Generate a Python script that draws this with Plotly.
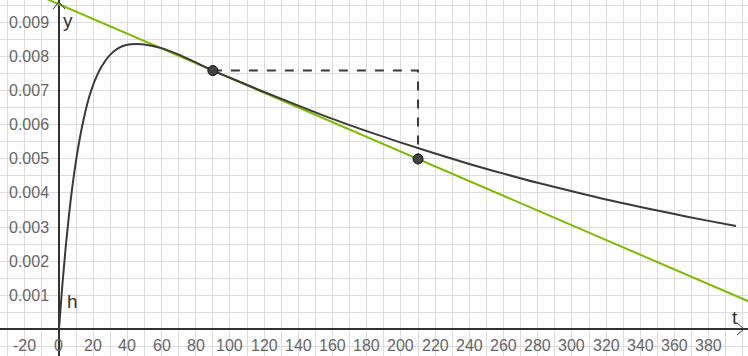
import plotly.graph_objects as go

# Curve h(t)
curve_t = [0, 2, 4, 6, 8, 10, 12, 15, 18, 21, 25, 30, 35, 40, 45, 50, 60, 70, 80, 90,
           100, 120, 140, 160, 180, 200, 220, 240, 260, 280, 300, 320, 340, 360, 380, 396]
curve_y = [0.0, 0.00131, 0.00245, 0.00342, 0.00425, 0.00496, 0.00556, 0.00630, 0.00688,
           0.00731, 0.00773, 0.00807, 0.00827, 0.00836, 0.00838, 0.00837, 0.00826, 0.00807,
           0.00784, 0.00760, 0.00739, 0.00697, 0.00657, 0.00618, 0.00582, 0.00548, 0.00516,
           0.004855, 0.00457, 0.00430, 0.00405, 0.00381, 0.00359, 0.00338, 0.00318, 0.00303]

# Tangent line (green)
tangent_t = [-40, 410]
tangent_y = [0.010417, 0.000667]

# Points and dashed guide
point_t = [90, 210]
point_y = [0.0076, 0.005]
guide_t = [90, 210, 210]
guide_y = [0.0076, 0.0076, 0.005]

# Tick labels
xtick_vals = list(range(-20, 381, 20))
xtick_text = [str(v) for v in xtick_vals]
ytick_vals = [0.001, 0.002, 0.003, 0.004, 0.005, 0.006, 0.007, 0.008, 0.009]
ytick_text = ["0.001", "0.002", "0.003", "0.004", "0.005", "0.006", "0.007", "0.008", "0.009"]

X_MIN, X_MAX = -34.5, 403.0
Y_MIN, Y_MAX = -0.000794, 0.009676

fig = go.Figure()

fig.add_trace(go.Scatter(x=tangent_t, y=tangent_y, mode="lines",
                         line=dict(color="#7dbb00", width=2), hoverinfo="skip"))
fig.add_trace(go.Scatter(x=curve_t, y=curve_y, mode="lines", line_shape="spline",
                         line=dict(color="#3a3a3a", width=2), hoverinfo="skip"))
fig.add_trace(go.Scatter(x=guide_t, y=guide_y, mode="lines",
                         line=dict(color="#3a3a3a", width=2, dash="dash"), hoverinfo="skip"))
fig.add_trace(go.Scatter(x=point_t, y=point_y, mode="markers",
                         marker=dict(color="#444444", size=10, line=dict(color="#111111", width=1)),
                         hoverinfo="skip"))

annotations = []
tick_font = dict(family="Liberation Sans, Arial, sans-serif", size=16, color="#666666")
for v, t in zip(xtick_vals, xtick_text):
    annotations.append(dict(x=v, y=0, xref="x", yref="y", text=t, showarrow=False,
                            yshift=-16, font=tick_font, xanchor="center", yanchor="middle"))
for v, t in zip(ytick_vals, ytick_text):
    annotations.append(dict(x=0, y=v, xref="x", yref="y", text=t, showarrow=False,
                            xshift=-8, font=tick_font, xanchor="right", yanchor="middle"))

label_font = dict(family="Liberation Sans, Arial, sans-serif", size=19, color="#333333")
annotations.append(dict(x=0, y=Y_MAX, xref="x", yref="y", text="y", showarrow=False,
                        xshift=9, yshift=-20, font=label_font))
annotations.append(dict(x=X_MAX, y=0, xref="x", yref="y", text="t", showarrow=False,
                        xshift=-13, yshift=12, font=label_font))
annotations.append(dict(x=0, y=0, xref="x", yref="y", text="h", showarrow=False,
                        xshift=14, yshift=28, font=label_font))

shapes = [
    # x axis arrow (open chevron)
    dict(type="line", xref="x", yref="y", xsizemode="pixel", ysizemode="pixel",
         xanchor=X_MAX, yanchor=0, x0=-11, y0=6, x1=-4, y1=0, line=dict(color="#333333", width=1)),
    dict(type="line", xref="x", yref="y", xsizemode="pixel", ysizemode="pixel",
         xanchor=X_MAX, yanchor=0, x0=-11, y0=-6, x1=-4, y1=0, line=dict(color="#333333", width=1)),
    # y axis arrow
    dict(type="line", xref="x", yref="y", xsizemode="pixel", ysizemode="pixel",
         xanchor=0, yanchor=Y_MAX, x0=-6, y0=-9, x1=0, y1=-2, line=dict(color="#333333", width=1)),
    dict(type="line", xref="x", yref="y", xsizemode="pixel", ysizemode="pixel",
         xanchor=0, yanchor=Y_MAX, x0=6, y0=-9, x1=0, y1=-2, line=dict(color="#333333", width=1)),
]

fig.update_layout(
    width=748, height=356,
    margin=dict(l=0, r=0, t=0, b=0),
    paper_bgcolor="white", plot_bgcolor="white",
    showlegend=False,
    annotations=annotations,
    shapes=shapes,
    xaxis=dict(range=[X_MIN, X_MAX], dtick=10, tick0=0, showgrid=True, gridcolor="#dcdcdc",
               gridwidth=1, showticklabels=False, zeroline=True, zerolinecolor="#333333",
               zerolinewidth=1.5, showline=False, ticks="", fixedrange=True),
    yaxis=dict(range=[Y_MIN, Y_MAX], dtick=0.0005, tick0=0, showgrid=True, gridcolor="#dcdcdc",
               gridwidth=1, showticklabels=False, zeroline=True, zerolinecolor="#333333",
               zerolinewidth=1.5, showline=False, ticks="", fixedrange=True),
)

fig.write_html("out.html", config={"displayModeBar": False},
               post_script="document.body.style.margin='0';document.body.style.overflow='hidden';")
